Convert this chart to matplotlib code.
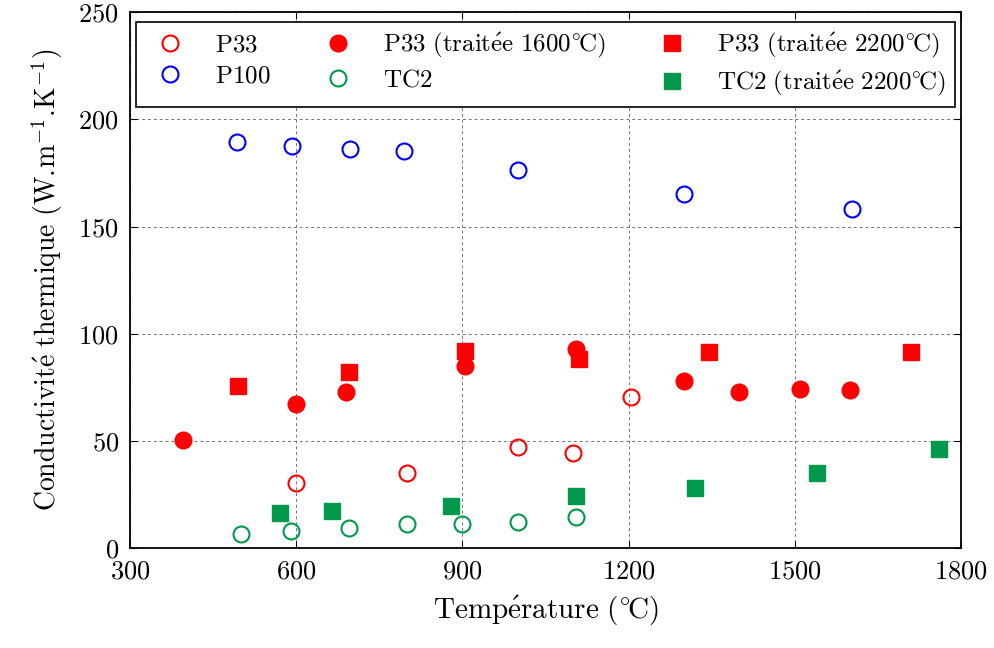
import matplotlib
matplotlib.use("Agg")
from matplotlib import pyplot as plt

plt.rcParams["font.family"] = ["cmr10", "DejaVu Serif"]
plt.rcParams["mathtext.fontset"] = "cm"
plt.rcParams["axes.formatter.use_mathtext"] = True

# Data
p33_t = [600, 800, 1000, 1100, 1205]
p33_k = [30.5, 35, 47, 44.5, 70.5]

p33_1600_t = [395, 600, 690, 905, 1105, 1300, 1400, 1510, 1600]
p33_1600_k = [50.7, 67.3, 73, 85, 93, 78, 73, 74.5, 74]

p33_2200_t = [495, 695, 905, 1110, 1345, 1710]
p33_2200_k = [75.5, 82, 92, 88.5, 91.5, 91.5]

p100_t = [493, 592, 697, 795, 1001, 1301, 1603]
p100_k = [189.4, 187.5, 186.2, 185.3, 176.4, 165.3, 158.1]

tc2_t = [500, 590, 695, 800, 900, 1000, 1105]
tc2_k = [6.8, 8, 9.2, 11.4, 11.2, 12.4, 14.6]

tc2_2200_t = [570, 665, 880, 1105, 1320, 1540, 1760]
tc2_2200_k = [16.5, 17.5, 19.5, 24.5, 28, 35, 46.5]

xticks = [300, 600, 900, 1200, 1500, 1800]
yticks = [0, 50, 100, 150, 200, 250]

# cmr10 has no é or °, so the labels go through mathtext (cm fontset)
lab_p33 = r"$\mathrm{P33}$"
lab_p100 = r"$\mathrm{P100}$"
lab_p33_1600 = r"$\mathrm{P33\ (trait\acute{e}e\ 1600^{\circ}\!C)}$"
lab_tc2 = r"$\mathrm{TC2}$"
lab_p33_2200 = r"$\mathrm{P33\ (trait\acute{e}e\ 2200^{\circ}\!C)}$"
lab_tc2_2200 = r"$\mathrm{TC2\ (trait\acute{e}e\ 2200^{\circ}\!C)}$"

red = "#ff0000"
blue = "#0000ff"
green = "#00994c"
ms = 12

fig = plt.figure(figsize=(9.95, 6.48), dpi=100)
ax = fig.add_axes([0.1307, 0.154, 0.835, 0.827])

ax.plot(p33_t, p33_k, "o", ls="none", ms=ms - 0.5, mfc="none", mec=red, mew=1.5, label=lab_p33)
ax.plot(p100_t, p100_k, "o", ls="none", ms=ms - 0.5, mfc="none", mec=blue, mew=1.5, label=lab_p100)
ax.plot(p33_1600_t, p33_1600_k, "o", ls="none", ms=ms, color=red, mec=red, label=lab_p33_1600)
ax.plot(tc2_t, tc2_k, "o", ls="none", ms=ms - 0.5, mfc="none", mec=green, mew=1.5, label=lab_tc2)
ax.plot(p33_2200_t, p33_2200_k, "s", ls="none", ms=ms, color=red, mec=red, label=lab_p33_2200)
ax.plot(tc2_2200_t, tc2_2200_k, "s", ls="none", ms=ms, color=green, mec=green, label=lab_tc2_2200)

ax.set_xlim(300, 1800)
ax.set_ylim(0, 250)
ax.set_xticks(xticks)
ax.set_yticks(yticks)
ax.tick_params(direction="in", top=True, right=True, length=5, labelsize=19, pad=8)
ax.grid(True, linestyle=(0, (3, 3)), color="0.45", linewidth=0.7)
ax.set_axisbelow(True)
for s in ax.spines.values():
    s.set_linewidth(1.3)

ax.set_xlabel(r"$\mathrm{Temp\acute{e}rature\ (^{\circ}\!C)}$", fontsize=21, labelpad=8)
ax.set_ylabel(r"$\mathrm{Conductivit\acute{e}\ thermique\ (W.\!m^{-1}.\!K^{-1})}$", fontsize=20, labelpad=10)

leg = ax.legend(loc="upper center", ncol=3, fontsize=18, frameon=True, fancybox=False,
                framealpha=1, edgecolor="black", borderaxespad=0.4, borderpad=0.35,
                handletextpad=0.8, columnspacing=1.7, labelspacing=0.35)
leg.get_frame().set_linewidth(1.2)

fig.savefig("out.png", dpi=100)
